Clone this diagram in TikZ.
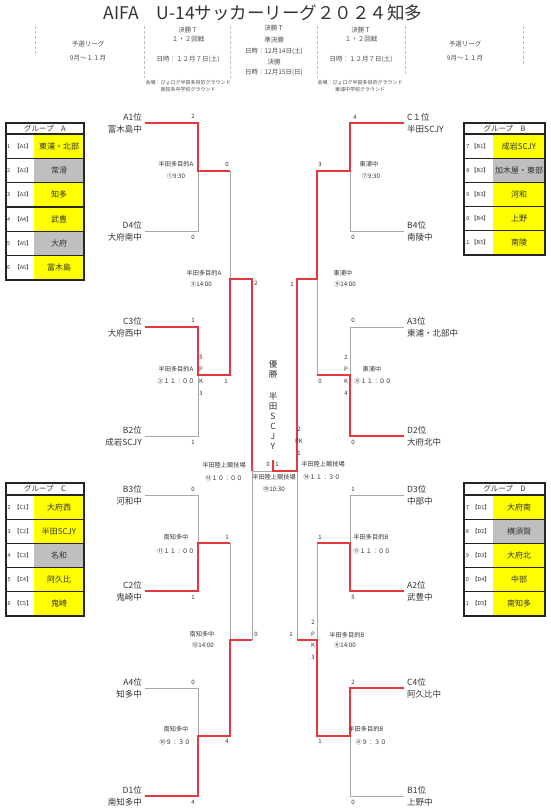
\documentclass[tikz,border=0pt]{standalone}
\usepackage{fontspec}
\setmainfont{Noto Sans CJK JP}
\usepackage{tikz}
\definecolor{winred}{HTML}{E8383D}
\definecolor{losegray}{HTML}{A8A8A8}
\definecolor{cellyel}{HTML}{FFFF00}
\definecolor{cellgray}{HTML}{BFBFBF}
\definecolor{txtgray}{HTML}{333333}

\begin{document}
\begin{tikzpicture}[x=1pt, y=-1pt,
    team/.style={font=\fontsize{8.5}{12}\selectfont, text=txtgray, inner sep=3pt},
    teamL/.style={team, anchor=east, align=right},
    teamR/.style={team, anchor=west, align=left},
    sc/.style={font=\fontsize{6}{12}\selectfont, text=txtgray, inner sep=0pt, align=center},
    ven/.style={font=\fontsize{6.2}{7}\selectfont, text=txtgray, inner sep=0pt},
    hd/.style={font=\fontsize{6.5}{7}\selectfont, text=black!70, inner sep=0pt},
    place/.style={font=\fontsize{5}{5}\selectfont, text=black!70, inner sep=0pt},
    win/.style={draw=winred, line width=1.7pt},
    lose/.style={draw=losegray, line width=0.8pt},
    sepline/.style={draw=black!25, line width=0.8pt, densely dashed},
    tbl/.style={draw=black!85, line width=1.2pt},
    tblhead/.style={font=\fontsize{7.5}{8}\selectfont, text=txtgray, inner sep=0pt},
    cellt/.style={font=\fontsize{8}{8}\selectfont, text=txtgray, inner sep=0pt},
    nr/.style={font=\fontsize{5.5}{6}\selectfont, text=txtgray, inner sep=0pt},
]
\useasboundingbox (0,0) rectangle (551,812);
\fill[white] (0,0) rectangle (551,812);

% Title and schedule header
\node[font=\fontsize{17.5}{18}\selectfont, text=black!80] (title) at (263,13) {AIFA　U-14サッカーリーグ２０２４知多};
\foreach \xx/\yy in {35/54, 144/78, 230/78, 317/78, 405/76, 523/65}
    \draw[sepline] (\xx,26) -- (\xx,\yy);
\node[hd] (h1a) at (88,44) {予選リーグ};
\node[hd] (h1b) at (88,58) {9月～１１月};
\node[hd] (h2a) at (188,30) {決勝Ｔ};
\node[hd] (h2b) at (188,39) {１・２回戦};
\node[hd] (h2c) at (188,59) {日時：１２月７日(土)};
\node[hd] (h3a) at (274,28) {決勝Ｔ};
\node[hd] (h3b) at (274,40) {準決勝};
\node[hd] (h3c) at (274,51) {日時：12月14日(土)};
\node[hd] (h3d) at (274,62) {決勝};
\node[hd] (h3e) at (274,72) {日時：12月15日(日)};
\node[hd] (h4a) at (361,30) {決勝Ｔ};
\node[hd] (h4b) at (361,39) {１・２回戦};
\node[hd] (h4c) at (361,59) {日時：１２月７日(土)};
\node[hd] (h5a) at (465,44) {予選リーグ};
\node[hd] (h5b) at (465,58) {9月～１１月};
\node[place] (p1a) at (188,83) {会場：びょログ半田多目的グラウンド};
\node[place] (p1b) at (188,90) {南知多中学校グラウンド};
\node[place] (p2a) at (360,83) {会場：びょログ半田多目的グラウンド};
\node[place] (p2b) at (360,90) {東浦中学校グラウンド};

% Group tables
\begin{scope}
    \clip (6,123) rectangle (84,280);
    \foreach \n/\lab/\nm/\fc [count=\i from 0] in {1/A1/東浦・北部/cellyel, 2/A2/常滑/cellgray,
        3/A3/知多/cellyel, 4/A4/武豊/cellyel, 5/A5/大府/cellgray, 6/A6/富木島/cellyel}{
        \fill[\fc] (34,134+\i*24.33) rectangle (84,158.33+\i*24.33);
        \node[nr, anchor=east] (gA-n\i) at (10.5,146.2+\i*24.33) {\n};
        \node[nr] (gA-l\i) at (23,146.2+\i*24.33) {【\lab】};
        \node[cellt] (gA-t\i) at (59,146.2+\i*24.33) {\nm};
    }
\end{scope}
\node[tblhead] (gA) at (45,128.5) {グループ　A};
\draw[tbl] (6,123) rectangle (84,280);
\foreach \k in {0,...,5} \draw[tbl] (6,134+\k*24.33) -- (84,134+\k*24.33);

\begin{scope}
    \clip (464,123) rectangle (545,255);
    \foreach \n/\lab/\nm/\fc [count=\i from 0] in {7/B1/成岩SCJY/cellyel, 8/B2/加木屋・東部/cellgray,
        9/B3/河和/cellyel, 10/B4/上野/cellyel, 11/B5/南陵/cellyel}{
        \fill[\fc] (493,134+\i*24.2) rectangle (545,158.2+\i*24.2);
        \node[nr, anchor=east] (gB-n\i) at (469.5,146.1+\i*24.2) {\n};
        \node[nr] (gB-l\i) at (480,146.1+\i*24.2) {【\lab】};
        \node[cellt] (gB-t\i) at (519,146.1+\i*24.2) {\nm};
    }
\end{scope}
\node[tblhead] (gB) at (504.5,128.5) {グループ　B};
\draw[tbl] (464,123) rectangle (545,255);
\foreach \k in {0,...,4} \draw[tbl] (464,134+\k*24.2) -- (545,134+\k*24.2);

\begin{scope}
    \clip (6,483) rectangle (84,616);
    \foreach \n/\lab/\nm/\fc [count=\i from 0] in {12/C1/大府西/cellyel, 13/C2/半田SCJY/cellyel,
        14/C3/名和/cellgray, 15/C4/阿久比/cellyel, 16/C5/鬼崎/cellyel}{
        \fill[\fc] (34,495+\i*24.2) rectangle (84,519.2+\i*24.2);
        \node[nr, anchor=east] (gC-n\i) at (11,507.1+\i*24.2) {\n};
        \node[nr] (gC-l\i) at (23,507.1+\i*24.2) {【\lab】};
        \node[cellt] (gC-t\i) at (59,507.1+\i*24.2) {\nm};
    }
\end{scope}
\node[tblhead] (gC) at (45,489) {グループ　C};
\draw[tbl] (6,483) rectangle (84,616);
\foreach \k in {0,...,4} \draw[tbl] (6,495+\k*24.2) -- (84,495+\k*24.2);

\begin{scope}
    \clip (464,483) rectangle (545,616);
    \foreach \n/\lab/\nm/\fc [count=\i from 0] in {17/D1/大府南/cellyel, 18/D2/横須賀/cellgray,
        19/D3/大府北/cellyel, 20/D4/中部/cellyel, 21/D5/南知多/cellyel}{
        \fill[\fc] (493,495+\i*24.2) rectangle (545,519.2+\i*24.2);
        \node[nr, anchor=east] (gD-n\i) at (469,507.1+\i*24.2) {\n};
        \node[nr] (gD-l\i) at (481,507.1+\i*24.2) {【\lab】};
        \node[cellt] (gD-t\i) at (519,507.1+\i*24.2) {\nm};
    }
\end{scope}
\node[tblhead] (gD) at (504.5,489) {グループ　D};
\draw[tbl] (464,483) rectangle (545,616);
\foreach \k in {0,...,4} \draw[tbl] (464,495+\k*24.2) -- (545,495+\k*24.2);

% Teams
\node[teamL] (a1) at (145,123) {A1位\\富木島中};
\node[teamL] (d4) at (145,231) {D4位\\大府南中};
\node[teamL] (c3) at (145,327) {C3位\\大府西中};
\node[teamL] (b2) at (145,436) {B2位\\成岩SCJY};
\node[teamL] (b3) at (145,495) {B3位\\河和中};
\node[teamL] (c2) at (145,591) {C2位\\鬼崎中};
\node[teamL] (a4) at (145,688) {A4位\\知多中};
\node[teamL] (d1) at (145,796) {D1位\\南知多中};
\node[teamR] (c1) at (404,123) {C１位\\半田SCJY};
\node[teamR] (b4) at (404,231) {B4位\\南陵中};
\node[teamR] (a3) at (404,327) {A3位\\東浦・北部中};
\node[teamR] (d2) at (404,436) {D2位\\大府北中};
\node[teamR] (d3) at (404,495) {D3位\\中部中};
\node[teamR] (a2) at (404,591) {A2位\\武豊中};
\node[teamR] (c4) at (404,688) {C4位\\阿久比中};
\node[teamR] (b1) at (404,796) {B1位\\上野中};

% Match points
\coordinate (m1) at (198,171);
\coordinate (m2) at (198,375);
\coordinate (m3) at (198,543);
\coordinate (m4) at (198,736);
\coordinate (q1) at (230,279);
\coordinate (q2) at (230,640);
\coordinate (s1) at (252,471);
\coordinate (m5) at (350,171);
\coordinate (m6) at (350,375);
\coordinate (m7) at (350,543);
\coordinate (m8) at (350,736);
\coordinate (q3) at (317,279);
\coordinate (q4) at (317,640);
\coordinate (s2) at (297,471);
\coordinate (fin) at (273,471);
\coordinate (champ) at (273,460);

% Losing paths
\draw[lose] (d4.east) -| (m1);
\draw[lose] (b2.east) -| (m2);
\draw[lose] (b3.east) -| (m3);
\draw[lose] (a4.east) -| (m4);
\draw[lose] (m1 -| q1) -- (q1);
\draw[lose] (m3 -| q2) -- (q2);
\draw[lose] (q2 -| s1) -- (s1) -- (fin);
\draw[lose] (b4.west) -| (m5);
\draw[lose] (a3.west) -| (m6);
\draw[lose] (d3.west) -| (m7);
\draw[lose] (b1.west) -| (m8);
\draw[lose] (m6 -| q3) -- (q3);
\draw[lose] (m7 -| q4) -- (q4);
\draw[lose] (q4 -| s2) -- (s2);

% Winning paths
\draw[win] (a1.east) -| (m1) -- (m1 -| q1);
\draw[win] (c3.east) -| (m2) -| (q1) -| (s1);
\draw[win] (c2.east) -| (m3) -- (m3 -| q2);
\draw[win] (d1.east) -| (m4) -| (q2) -- (q2 -| s1);
\draw[win] (c1.west) -| (m5) -| (q3) -| (s2) -- (fin) -- (champ);
\draw[win] (d2.west) -| (m6) -- (m6 -| q3);
\draw[win] (a2.west) -| (m7) -- (m7 -| q4);
\draw[win] (c4.west) -| (m8) -| (q4) -- (q4 -| s2);

% Scores
\node[sc] (sa1) at (193,116) {2};
\node[sc] (sd4) at (193,237) {0};
\node[sc] (sc3) at (193,320) {1};
\node[sc] (sb2) at (193,442) {1};
\node[sc] (sb3) at (193,489) {0};
\node[sc] (sc2) at (193,597) {1};
\node[sc] (sa4) at (193,682) {0};
\node[sc] (sd1) at (193,802) {4};
\node[sc] (pk2) at (201,375) {5\\P\\K\\3};
\node[sc] (r1a) at (227,164) {0};
\node[sc] (r1b) at (226,381) {1};
\node[sc] (r2a) at (227,537) {1};
\node[sc] (r2b) at (227,741) {4};
\node[sc] (sf1a) at (256,283) {2};
\node[sc] (sf1b) at (256,634) {0};
\node[sc] (fl) at (268,464) {0};
\node[sc] (fr) at (277,464) {1};
\node[sc] (sc1) at (355,117) {4};
\node[sc] (sb4) at (353,237) {0};
\node[sc] (sa3) at (353,320) {0};
\node[sc] (sd2) at (353,442) {0};
\node[sc] (sd3) at (353,489) {1};
\node[sc] (sa2) at (353,597) {5};
\node[sc] (sc4) at (353,682) {2};
\node[sc] (sb1) at (353,802) {0};
\node[sc] (pk6) at (346,375) {2\\P\\K\\4};
\node[sc] (r3a) at (320,164) {3};
\node[sc] (r3b) at (320,381) {0};
\node[sc] (r4a) at (320,537) {1};
\node[sc] (r4b) at (320,741) {1};
\node[sc, font=\fontsize{6}{11.7}\selectfont] (pkq4) at (313,640) {2\\P\\K\\3};
\node[sc] (sf2a) at (292,284) {1};
\node[sc] (sf2b) at (291,634) {1};
\node[sc] (pks2) at (299,441) {2\\PK\\1};

% Venues and kick-off times
\node[ven] (v1) at (176,164) {半田多目的A};
\node[ven] (t1) at (176,176) {①9:30};
\node[ven] (v2) at (176,369) {半田多目的A};
\node[ven] (t2) at (176,381) {②１１：００};
\node[ven] (v3) at (204,273) {半田多目的A};
\node[ven] (t3) at (201,284) {③14:00};
\node[ven] (v11) at (176,537) {南知多中};
\node[ven] (t11) at (176,551) {⑪１１：００};
\node[ven] (v12) at (202,634) {南知多中};
\node[ven] (t12) at (203,645) {⑫14:00};
\node[ven] (v10) at (176,729) {南知多中};
\node[ven] (t10) at (175,742) {⑩９：３０};
\node[ven] (v13) at (224,465) {半田陸上競技場};
\node[ven] (t13) at (224,478) {⑬１０：００};
\node[ven] (v15) at (274,477) {半田陸上競技場};
\node[ven] (t15) at (274,489) {⑮10:30};
\node[ven] (v14) at (323,464) {半田陸上競技場};
\node[ven] (t14) at (322,477) {⑭１１：３０};
\node[ven] (v7) at (369,164) {東浦中};
\node[ven] (t7) at (371,176) {⑦9:30};
\node[ven] (v9) at (343,273) {東浦中};
\node[ven] (t9) at (345,284) {⑨14:00};
\node[ven] (v8) at (372,369) {東浦中};
\node[ven] (t8) at (373,381) {⑧１１：００};
\node[ven] (v5) at (371,537) {半田多目的B};
\node[ven] (t5) at (372,551) {⑤１１：００};
\node[ven] (v6) at (347,635) {半田多目的B};
\node[ven] (t6) at (345,645) {⑥14:00};
\node[ven] (v4) at (366,729) {半田多目的B};
\node[ven] (t4) at (371,742) {④９：３０};

% Champion
\node[font=\fontsize{8.5}{10}\selectfont, text=txtgray, align=center, inner sep=0pt] (champion) at (273,405) {優\\勝\\[12pt]半\\田\\S\\C\\J\\Y};
\end{tikzpicture}
\end{document}
